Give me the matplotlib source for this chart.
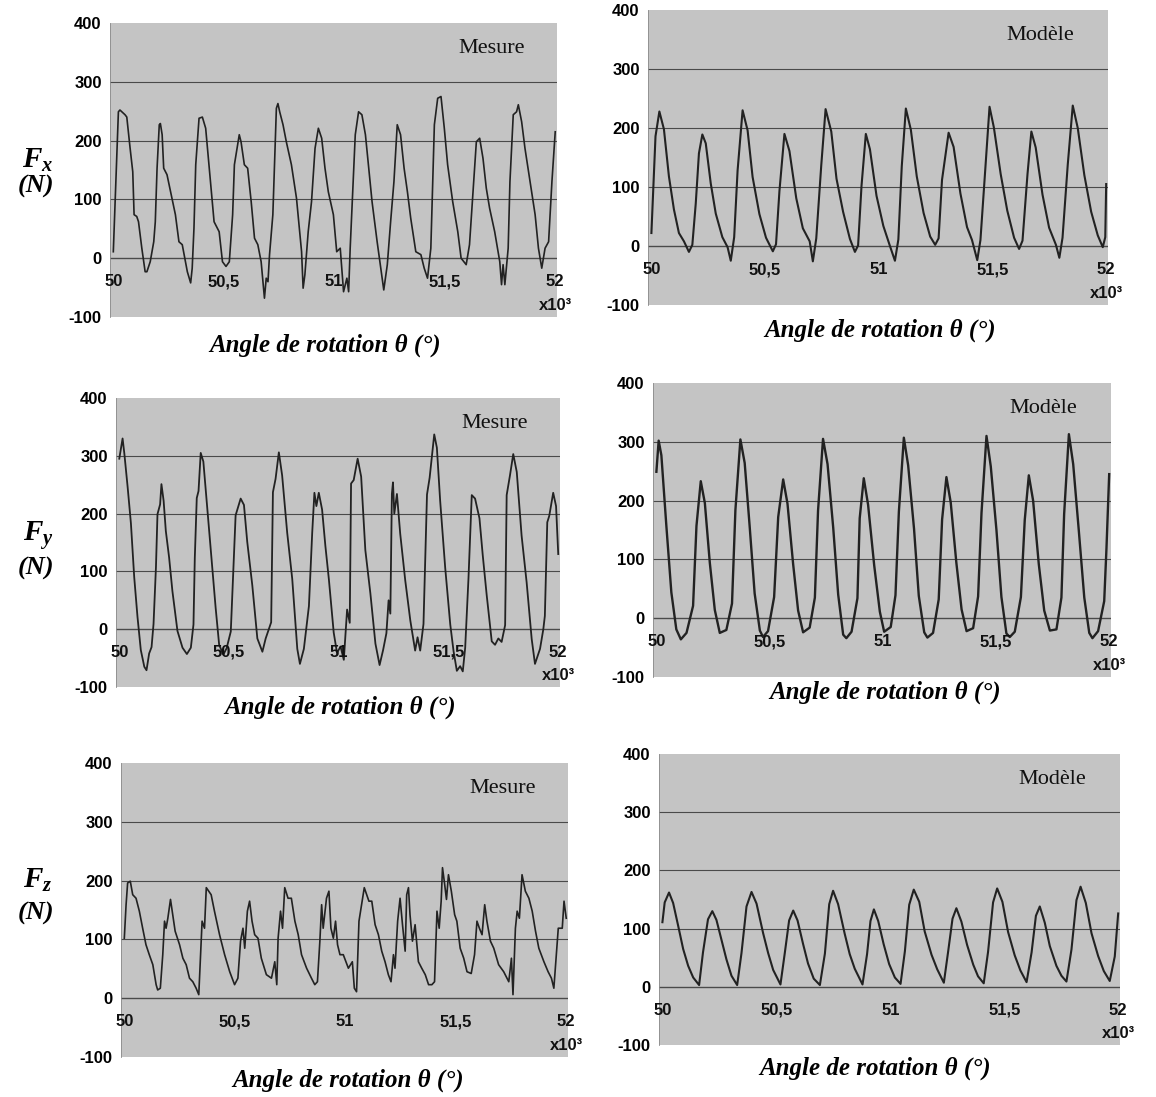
import matplotlib
matplotlib.use("Agg")
import matplotlib.pyplot as plt

W, H = 1156, 1097

plt.rcParams['mathtext.fontset'] = 'custom'
plt.rcParams['mathtext.it'] = 'Liberation Serif:italic:bold'
plt.rcParams['mathtext.rm'] = 'Liberation Serif:bold'

# angle de rotation in x10^3 degrees, force in N
fx_mes_t = [50.000, 50.023, 50.030, 50.053, 50.061, 50.076, 50.088, 50.094, 50.106, 50.114,
            50.129, 50.144, 50.152, 50.167, 50.183, 50.190, 50.198, 50.208, 50.213, 50.221,
            50.228, 50.243, 50.259, 50.281, 50.297, 50.312, 50.335, 50.350, 50.357, 50.365,
            50.373, 50.388, 50.403, 50.418, 50.433, 50.456, 50.479, 50.494, 50.510, 50.525,
            50.540, 50.548, 50.570, 50.578, 50.593, 50.608, 50.624, 50.639, 50.654, 50.669,
            50.684, 50.692, 50.700, 50.707, 50.722, 50.738, 50.745, 50.753, 50.768, 50.783,
            50.806, 50.829, 50.852, 50.859, 50.867, 50.882, 50.897, 50.913, 50.928, 50.943,
            50.958, 50.973, 50.996, 51.011, 51.027, 51.042, 51.057, 51.065, 51.072, 51.095,
            51.110, 51.125, 51.141, 51.156, 51.171, 51.194, 51.217, 51.224, 51.240, 51.255,
            51.270, 51.285, 51.300, 51.316, 51.331, 51.346, 51.369, 51.392, 51.407, 51.422,
            51.437, 51.453, 51.468, 51.483, 51.498, 51.513, 51.536, 51.559, 51.574, 51.597,
            51.612, 51.627, 51.643, 51.658, 51.673, 51.688, 51.703, 51.726, 51.749, 51.757,
            51.764, 51.772, 51.787, 51.795, 51.810, 51.825, 51.833, 51.848, 51.863, 51.886,
            51.909, 51.924, 51.939, 51.954, 51.970, 51.985, 52.000]
fx_mes_f = [11, 249, 252, 244, 240, 187, 147, 74, 71, 62,
            17, -23, -23, -6, 28, 62, 153, 227, 229, 210,
            153, 142, 113, 74, 28, 23, -23, -42, -17, 51,
            159, 238, 240, 221, 159, 62, 45, -6, -14, -6,
            74, 159, 210, 198, 159, 153, 96, 34, 23, -6,
            -68, -34, -40, 6, 74, 255, 263, 249, 227, 198,
            159, 102, 11, -51, -28, 45, 96, 187, 221, 204,
            153, 113, 74, 11, 17, -57, -34, -57, 17, 210,
            249, 244, 210, 153, 96, 28, -34, -54, -11, 62,
            130, 227, 210, 153, 113, 68, 11, 6, -17, -34,
            17, 227, 272, 275, 221, 159, 96, 45, 0, -11,
            23, 108, 198, 204, 170, 119, 85, 45, -6, -45,
            -11, -45, 17, 130, 244, 249, 261, 232, 187, 130,
            74, 17, -17, 17, 28, 130, 215]

fx_mod_t = [50.000, 50.018, 50.035, 50.055, 50.077, 50.099, 50.121, 50.143, 50.165, 50.180,
            50.195, 50.209, 50.224, 50.239, 50.261, 50.283, 50.312, 50.335, 50.349, 50.364,
            50.379, 50.401, 50.423, 50.445, 50.475, 50.504, 50.534, 50.548, 50.563, 50.585,
            50.607, 50.637, 50.666, 50.696, 50.710, 50.725, 50.747, 50.766, 50.791, 50.814,
            50.843, 50.873, 50.895, 50.909, 50.924, 50.943, 50.961, 50.990, 51.020, 51.049,
            51.071, 51.086, 51.101, 51.119, 51.141, 51.167, 51.197, 51.226, 51.248, 51.263,
            51.278, 51.307, 51.329, 51.359, 51.388, 51.410, 51.433, 51.447, 51.469, 51.487,
            51.506, 51.536, 51.565, 51.595, 51.617, 51.632, 51.654, 51.671, 51.690, 51.720,
            51.749, 51.779, 51.794, 51.808, 51.831, 51.853, 51.875, 51.904, 51.934, 51.963,
            51.985, 51.996, 52.000]
fx_mod_f = [22, 186, 228, 198, 118, 62, 22, 8, -10, 2,
            72, 157, 189, 174, 106, 55, 15, -2, -25, 15,
            128, 230, 196, 117, 54, 14, -9, 3, 93, 190,
            161, 81, 30, 8, -26, 13, 137, 232, 194, 114,
            58, 12, -10, 1, 102, 190, 164, 85, 34, 0,
            -25, 11, 135, 233, 197, 118, 56, 16, 2, 13,
            112, 192, 168, 89, 32, 10, -24, 10, 134, 236,
            201, 122, 60, 14, -5, 9, 122, 194, 167, 87,
            31, 2, -20, 14, 138, 238, 200, 120, 58, 18,
            -2, 15, 105]

fy_mes_t = [50.000, 50.015, 50.023, 50.038, 50.053, 50.068, 50.083, 50.098, 50.114, 50.124,
            50.136, 50.147, 50.156, 50.167, 50.174, 50.186, 50.192, 50.202, 50.212, 50.227,
            50.242, 50.265, 50.288, 50.308, 50.326, 50.338, 50.344, 50.353, 50.361, 50.371,
            50.383, 50.402, 50.417, 50.439, 50.455, 50.474, 50.489, 50.508, 50.530, 50.553,
            50.568, 50.583, 50.606, 50.629, 50.652, 50.667, 50.682, 50.692, 50.700, 50.712,
            50.727, 50.742, 50.765, 50.788, 50.811, 50.823, 50.841, 50.864, 50.879, 50.889,
            50.898, 50.909, 50.924, 50.939, 50.955, 50.977, 50.992, 51.008, 51.023, 51.038,
            51.050, 51.056, 51.068, 51.086, 51.102, 51.121, 51.144, 51.167, 51.186, 51.202,
            51.217, 51.227, 51.235, 51.242, 51.247, 51.253, 51.265, 51.280, 51.303, 51.326,
            51.348, 51.359, 51.371, 51.386, 51.402, 51.414, 51.435, 51.447, 51.462, 51.485,
            51.508, 51.523, 51.538, 51.553, 51.565, 51.576, 51.591, 51.606, 51.621, 51.641,
            51.656, 51.674, 51.697, 51.712, 51.727, 51.742, 51.758, 51.765, 51.780, 51.795,
            51.811, 51.833, 51.856, 51.879, 51.894, 51.917, 51.932, 51.939, 51.950, 51.959,
            51.977, 51.990, 52.000]
fy_mes_f = [295, 330, 304, 246, 183, 90, 21, -36, -65, -71,
            -42, -31, 9, 107, 199, 216, 251, 222, 170, 124,
            66, -3, -32, -43, -32, 8, 123, 227, 239, 305,
            290, 204, 135, 37, -27, -44, -33, -4, 197, 226,
            215, 151, 76, -16, -39, -16, 1, 12, 237, 260,
            306, 266, 167, 87, -34, -60, -34, 40, 167, 236,
            213, 236, 207, 144, 86, -6, -41, -30, -53, 34,
            11, 252, 258, 295, 264, 137, 62, -25, -62, -36,
            -7, 50, 27, 234, 254, 200, 234, 165, 84, 15,
            -37, -14, -37, 9, 233, 262, 337, 314, 222, 106,
            8, -38, -72, -64, -73, -32, 88, 232, 226, 192,
            128, 59, -21, -27, -16, -22, 7, 232, 266, 303,
            272, 162, 81, -17, -60, -34, 0, 23, 185, 196,
            236, 213, 130]

fy_mod_t = [50.000, 50.010, 50.022, 50.044, 50.066, 50.088, 50.108, 50.133, 50.162, 50.177,
            50.196, 50.214, 50.236, 50.258, 50.280, 50.309, 50.334, 50.349, 50.371, 50.390,
            50.412, 50.434, 50.457, 50.471, 50.493, 50.520, 50.538, 50.560, 50.579, 50.604,
            50.626, 50.648, 50.677, 50.700, 50.714, 50.736, 50.756, 50.781, 50.803, 50.825,
            50.839, 50.862, 50.888, 50.898, 50.916, 50.935, 50.962, 50.987, 51.006, 51.035,
            51.056, 51.071, 51.093, 51.112, 51.138, 51.159, 51.183, 51.197, 51.222, 51.247,
            51.262, 51.281, 51.300, 51.325, 51.348, 51.370, 51.399, 51.421, 51.436, 51.458,
            51.477, 51.502, 51.524, 51.546, 51.561, 51.583, 51.610, 51.627, 51.645, 51.664,
            51.689, 51.713, 51.738, 51.767, 51.789, 51.801, 51.822, 51.841, 51.866, 51.890,
            51.912, 51.926, 51.951, 51.978, 51.988, 52.000]
fy_mod_f = [249, 302, 277, 157, 44, -19, -36, -25, 21, 157,
            233, 196, 94, 14, -25, -20, 25, 184, 304, 264,
            156, 42, -21, -32, -22, 36, 172, 236, 195, 92,
            13, -24, -16, 35, 183, 305, 262, 154, 40, -28,
            -34, -23, 34, 170, 238, 193, 90, 11, -23, -15,
            39, 181, 307, 260, 152, 38, -24, -33, -25, 32,
            168, 240, 197, 94, 15, -22, -17, 37, 179, 310,
            258, 150, 36, -26, -32, -23, 36, 167, 243, 200,
            92, 13, -21, -19, 35, 177, 313, 262, 148, 35,
            -25, -34, -22, 29, 119, 245]

fz_mes_t = [50.000, 50.008, 50.015, 50.027, 50.038, 50.053, 50.068, 50.083, 50.098, 50.113,
            50.129, 50.144, 50.151, 50.163, 50.174, 50.182, 50.189, 50.197, 50.209, 50.219,
            50.230, 50.250, 50.265, 50.280, 50.295, 50.310, 50.325, 50.337, 50.345, 50.352,
            50.363, 50.371, 50.393, 50.408, 50.431, 50.454, 50.477, 50.499, 50.514, 50.526,
            50.537, 50.545, 50.557, 50.567, 50.578, 50.590, 50.605, 50.620, 50.643, 50.666,
            50.681, 50.690, 50.696, 50.707, 50.716, 50.726, 50.741, 50.756, 50.772, 50.787,
            50.802, 50.825, 50.847, 50.862, 50.874, 50.885, 50.893, 50.900, 50.915, 50.926,
            50.935, 50.946, 50.956, 50.965, 50.976, 50.991, 51.014, 51.032, 51.041, 51.051,
            51.062, 51.074, 51.086, 51.097, 51.107, 51.120, 51.135, 51.150, 51.165, 51.180,
            51.195, 51.207, 51.218, 51.225, 51.237, 51.248, 51.259, 51.271, 51.278, 51.286,
            51.293, 51.304, 51.316, 51.331, 51.346, 51.362, 51.377, 51.392, 51.404, 51.415,
            51.425, 51.434, 51.440, 51.449, 51.458, 51.467, 51.480, 51.495, 51.505, 51.520,
            51.536, 51.551, 51.570, 51.585, 51.596, 51.607, 51.619, 51.631, 51.641, 51.657,
            51.672, 51.694, 51.717, 51.740, 51.752, 51.759, 51.770, 51.778, 51.788, 51.800,
            51.815, 51.831, 51.846, 51.861, 51.876, 51.899, 51.918, 51.933, 51.944, 51.955,
            51.964, 51.982, 51.990, 52.000]
fz_mes_f = [102, 159, 196, 199, 176, 170, 148, 119, 91, 74,
            57, 23, 14, 17, 74, 131, 119, 136, 168, 142,
            114, 91, 68, 57, 34, 28, 17, 6, 74, 131,
            119, 188, 176, 148, 108, 74, 45, 23, 34, 97,
            119, 85, 148, 165, 131, 108, 102, 68, 40, 34,
            62, 23, 102, 148, 119, 188, 170, 170, 131, 108,
            74, 51, 34, 23, 28, 97, 159, 119, 170, 182,
            119, 102, 131, 91, 74, 74, 51, 62, 17, 11,
            131, 159, 188, 176, 165, 165, 125, 108, 80, 62,
            40, 28, 74, 51, 131, 170, 125, 80, 176, 188,
            142, 97, 125, 62, 51, 40, 23, 23, 28, 148,
            119, 165, 222, 196, 168, 210, 182, 142, 131, 85,
            68, 45, 42, 74, 131, 119, 108, 159, 131, 97,
            85, 57, 45, 28, 68, 6, 119, 148, 136, 210,
            182, 170, 148, 114, 85, 62, 45, 34, 17, 74,
            119, 119, 165, 136]

fz_mod_t = [50.000, 50.010, 50.029, 50.047, 50.069, 50.091, 50.113, 50.135, 50.161, 50.178,
            50.200, 50.219, 50.237, 50.259, 50.281, 50.303, 50.328, 50.347, 50.369, 50.391,
            50.413, 50.442, 50.464, 50.486, 50.518, 50.537, 50.556, 50.574, 50.593, 50.617,
            50.639, 50.664, 50.691, 50.713, 50.732, 50.749, 50.771, 50.800, 50.822, 50.844,
            50.878, 50.898, 50.913, 50.928, 50.947, 50.971, 50.995, 51.020, 51.045, 51.064,
            51.083, 51.103, 51.127, 51.151, 51.181, 51.206, 51.235, 51.254, 51.273, 51.290,
            51.312, 51.337, 51.364, 51.385, 51.410, 51.429, 51.451, 51.469, 51.492, 51.517,
            51.546, 51.571, 51.598, 51.620, 51.639, 51.656, 51.678, 51.700, 51.729, 51.751,
            51.773, 51.795, 51.817, 51.835, 51.858, 51.883, 51.912, 51.937, 51.963, 51.985,
            52.000]
fz_mod_f = [111, 145, 162, 144, 105, 65, 36, 16, 3, 59,
            116, 130, 115, 81, 47, 19, 3, 58, 138, 163,
            143, 92, 58, 29, 4, 58, 114, 131, 114, 74,
            40, 14, 3, 57, 142, 165, 142, 91, 56, 31,
            4, 56, 113, 133, 113, 73, 39, 16, 5, 61,
            141, 167, 146, 95, 55, 30, 7, 61, 117, 135,
            112, 72, 38, 18, 6, 60, 145, 169, 146, 94,
            54, 28, 8, 59, 122, 138, 110, 70, 36, 19,
            9, 64, 149, 172, 144, 92, 53, 27, 10, 52,
            126]

x_ticks = [50, 50.5, 51, 51.5, 52]
x_ticklabels = ["50", "50,5", "51", "51,5", "52"]
y_ticks = [-100, 0, 100, 200, 300, 400]
grid_levels = [0, 100, 200, 300]

# (left, top, right, bottom) in pixels, data, tag, line width, x-label centre
panels = [
    ((110, 23, 557, 317), fx_mes_t, fx_mes_f, "Mesure", 1.2, (325, 345)),
    ((648, 10, 1108, 305), fx_mod_t, fx_mod_f, "Modèle", 1.5, (880, 330)),
    ((116, 398, 560, 687), fy_mes_t, fy_mes_f, "Mesure", 1.3, (340, 707)),
    ((653, 383, 1111, 677), fy_mod_t, fy_mod_f, "Modèle", 1.7, (885, 692)),
    ((121, 763, 568, 1057), fz_mes_t, fz_mes_f, "Mesure", 1.2, (348, 1080)),
    ((659, 754, 1120, 1045), fz_mod_t, fz_mod_f, "Modèle", 1.5, (875, 1068)),
]

fig = plt.figure(figsize=(W / 100, H / 100), dpi=100)
fig.patch.set_facecolor("white")

for (l, t, r, b), th, force, tag, lw, (lx, ly) in panels:
    ax = fig.add_axes([l / W, 1 - b / H, (r - l) / W, (b - t) / H])
    ax.set_facecolor("#c4c4c4")
    ax.set_xlim(49.985, 52.008)
    ax.set_ylim(-100, 400)
    for lev in grid_levels:
        ax.axhline(lev, color="#4a4a4a", lw=0.8 if lev else 1.0, zorder=1)
    ax.plot(th, force, color="#222222", lw=lw, zorder=3, solid_joinstyle="round")
    for s in ["top", "right", "bottom"]:
        ax.spines[s].set_visible(False)
    ax.spines["left"].set_color("#8a8a8a")
    ax.spines["left"].set_linewidth(0.6)
    ax.set_xticks([])
    ax.set_yticks(y_ticks)
    ax.set_yticklabels([str(v) for v in y_ticks], fontfamily="Liberation Sans",
                       fontweight="bold", fontsize=12)
    ax.tick_params(axis="y", length=0, pad=6)
    for xv, lab in zip(x_ticks, x_ticklabels):
        ax.text(xv, -40, lab, ha="center", va="center", fontfamily="Liberation Sans",
                fontweight="bold", fontsize=12, color="#111111", zorder=4)
    ax.text(52.0, -80, "x10³", ha="center", va="center", fontfamily="Liberation Sans",
            fontweight="bold", fontsize=12, color="#111111", clip_on=False)
    ax.text(51.71, 356, tag, ha="center", va="center", fontfamily="Liberation Serif",
            fontsize=16, color="#111111")
    fig.text(lx / W, 1 - ly / H, "Angle de rotation θ (°)", ha="center", va="center",
             fontfamily="Liberation Serif", fontstyle="italic", fontweight="bold",
             fontsize=18)

# force labels on the left
for sub, yf, yn in [("x", 160, 186), ("y", 535, 568), ("z", 880, 913)]:
    fig.text(38 / W, 1 - yf / H, r"$F_%s$" % sub, ha="center", va="center", fontsize=21)
    fig.text(36 / W, 1 - yn / H, "(N)", ha="center", va="center",
             fontfamily="Liberation Serif", fontstyle="italic", fontweight="bold",
             fontsize=19)

fig.savefig("out.png", dpi=100)
